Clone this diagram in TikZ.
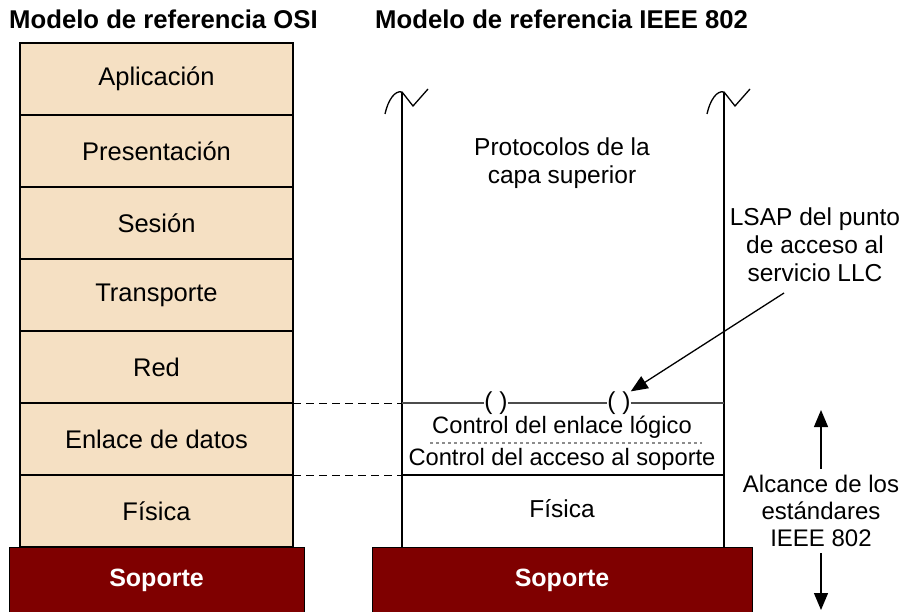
\documentclass[tikz,border=0pt]{standalone}
\usepackage{fontspec}
\setmainfont{Liberation Sans}
\usetikzlibrary{positioning,arrows.meta}
\definecolor{capafill}{HTML}{F5E0C3}
\definecolor{soporteRed}{HTML}{7F0000}
\newcommand{\cortes}[1]{\draw[line width=1.3pt] ([shift={(-17,22)}]#1) .. controls ([shift={(-14,8)}]#1) and ([shift={(-7,-2)}]#1) .. (#1) -- ([shift={(11,14)}]#1) -- ([shift={(26,-3)}]#1);}
\tikzset{capa/.style={draw, fill=capafill, line width=1.3pt, minimum width=273pt, minimum height=72pt, inner sep=0pt, outer sep=0pt, font=\fontsize{25.5}{28}\selectfont}}
\tikzset{soporte/.style={draw, fill=soporteRed, text=white, line width=1pt, minimum height=66pt, inner sep=0pt, font=\bfseries\fontsize{25}{28}\selectfont}}
\tikzset{txt/.style={align=center, inner sep=0pt, font=\fontsize{24.5}{28}\selectfont}}
\tikzset{titulo/.style={anchor=west, inner sep=0pt, font=\bfseries\fontsize{25.7}{28}\selectfont}}
\tikzset{ieeearrow/.style={-{Triangle[width=14pt,length=17pt]}, line width=1.3pt}}
\tikzset{rail/.style={line width=1.3pt}}

\begin{document}
\begin{tikzpicture}[x=1pt, y=-1pt]
\useasboundingbox (0,0) rectangle (899,612);
\node[titulo] (titA) at (9,19) {Modelo de referencia OSI};
\node[titulo] (titB) at (375,19) {Modelo de referencia IEEE 802};
\node[capa] (apl) at (156.5,79) {Aplicación};
\node[capa, below=0pt of apl] (pres) {Presentación};
\node[capa, below=0pt of pres] (ses) {Sesión};
\node[capa, below=0pt of ses] (trans) {Transporte};
\node[capa, below=0pt of trans] (red) {Red};
\node[capa, below=0pt of red] (enl) {Enlace de datos};
\node[capa, below=0pt of enl] (fis) {Física};
\node[soporte, minimum width=295pt, below=0pt of fis] (sopA) {Soporte};
\node[soporte, minimum width=380pt] (sopB) at (562,580) {Soporte};
\coordinate (lt) at (402,92);
\coordinate (lb) at (402,547);
\coordinate (rt) at (724,92);
\coordinate (rb) at (724,547);
\coordinate (llcL) at (402,403);
\coordinate (llcR) at (724,403);
\coordinate (macL) at (402,475);
\coordinate (macR) at (724,475);
\coordinate (sepL) at (430,443);
\coordinate (sepR) at (702,443);
\coordinate (lsapPie) at (784,293);
\coordinate (alcTop) at (821,410);
\coordinate (alcBot) at (821,610);
\draw[rail] (lt) -- (lb);
\draw[rail] (rt) -- (rb);
\cortes{lt}
\cortes{rt}
\node[txt] (proto) at (562,163) {Protocolos de la\\capa superior};
\node[txt] (lsap) at (815,245) {LSAP del punto\\de acceso al\\servicio LLC};
\node[txt, fill=white] (sapA) at (496,403) {( )};
\node[txt, fill=white] (sapB) at (619,403) {( )};
\draw[line width=1.3pt, black!70] (llcL) -- (sapA) (sapA) -- (sapB) (sapB) -- (llcR);
\draw[rail] (macL) -- (macR);
\draw[dashed, dash pattern=on 8pt off 5pt, line width=1pt] (enl.north east) -- (llcL);
\draw[dashed, dash pattern=on 8pt off 5pt, line width=1pt] (fis.north east) -- (macL);
\node[txt, font=\fontsize{23.7}{28}\selectfont] (llc) at (562,427) {Control del enlace lógico};
\node[txt, font=\fontsize{23.7}{28}\selectfont] (mac) at (562,459) {Control del acceso al soporte};
\draw[dash pattern=on 3pt off 3pt, line width=2pt, black!45] (sepL) -- (sepR);
\node[txt] (fisB) at (562,509) {Física};
\draw[ieeearrow] (lsapPie) -- (sapB.north east);
\node[txt, inner sep=6pt, font=\fontsize{24}{27}\selectfont] (alc) at (821,511) {Alcance de los\\estándares\\IEEE 802};
\draw[ieeearrow] (alc) -- (alcTop);
\draw[ieeearrow] (alc) -- (alcBot);
\end{tikzpicture}
\end{document}
